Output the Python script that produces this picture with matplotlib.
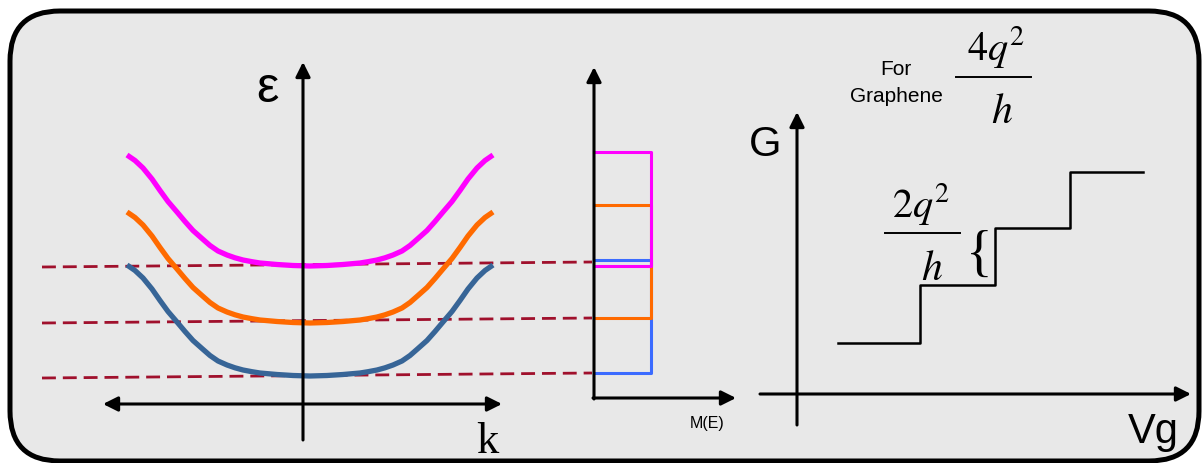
import matplotlib.pyplot as plt
from matplotlib.patches import FancyBboxPatch

plt.rcParams['font.family'] = ['Liberation Sans', 'DejaVu Sans']
plt.rcParams['mathtext.fontset'] = 'stix'

# band dispersion profile (pixel offsets from band centre)
prof_dx = [0, 17, 33, 50, 58, 67, 75, 83, 92, 100, 108, 117, 125, 133, 142, 150, 158, 167, 175, 183]
prof_dy = [0, 0.5, 1.5, 3, 4.3, 6, 8.2, 11, 15, 20.5, 27.5, 35.5, 44.5, 54, 64.5, 75.5, 87, 98, 105.5, 111]
band_centre = 310
band_min = [376, 323, 266]                  # blue, orange, magenta
band_colors = ['#376597', '#ff6a00', '#ff00ff']

# dashed guide lines: left y -> right y
dash_left = [378, 323, 267]
dash_right = [373, 318, 262]

# M(E) staircase: bottom / top of each mode
mode_bottom = [373, 318, 266]
mode_top = [260, 205, 152]
mode_colors = ['#3b6bff', '#ff6a00', '#ff00ff']

# conductance steps G(Vg)
vg_steps = [838, 920, 995, 1070, 1143]
g_steps = [343, 285, 228, 172, 172]

fig = plt.figure(figsize=(12.02, 4.63), dpi=100)
ax = fig.add_axes([0, 0, 1, 1])
ax.set_xlim(0, 1202)
ax.set_ylim(463, 0)
ax.axis('off')

box = FancyBboxPatch((10, 11), 1189, 450, boxstyle='round,pad=0,rounding_size=50',
                     facecolor='#e8e8e8', edgecolor='black', linewidth=3.6)
ax.add_patch(box)

arrow = dict(arrowstyle='-|>', color='black', lw=2.2, mutation_scale=22, shrinkA=0, shrinkB=0)

# dashed lines
for yl, yr in zip(dash_left, dash_right):
    ax.plot([42, 592], [yl, yr], color='#a0102c', lw=2.0, linestyle=(0, (5, 2.5)))

# band curves
for ymin, col in zip(band_min, band_colors):
    xs = [band_centre - d for d in prof_dx[::-1]] + [band_centre + d for d in prof_dx[1:]]
    ys = [ymin - d for d in prof_dy[::-1]] + [ymin - d for d in prof_dy[1:]]
    ax.plot(xs, ys, color=col, lw=3.8, solid_capstyle='butt', solid_joinstyle='round', zorder=3)

# E axis and k axis
ax.annotate('', xy=(303, 62), xytext=(303, 440), arrowprops=arrow, zorder=4)
ax.annotate('', xy=(502, 404), xytext=(103, 404),
            arrowprops=dict(arrowstyle='<|-|>', color='black', lw=2.2, mutation_scale=22,
                            shrinkA=0, shrinkB=0), zorder=4)
ax.text(267, 102, 'ε', fontsize=36, ha='center', va='baseline')
ax.text(487, 453, 'k', fontsize=32, ha='center', va='baseline', family='Liberation Serif')

# M(E) staircase
for b, t, col in zip(mode_bottom, mode_top, mode_colors):
    ax.plot([594, 651, 651, 594], [b, b, t, t], color=col, lw=2.2, zorder=3)
ax.annotate('', xy=(594, 67), xytext=(594, 399), arrowprops=arrow, zorder=4)
ax.annotate('', xy=(736, 398), xytext=(593, 398), arrowprops=arrow, zorder=4)
ax.text(707, 428, 'M(E)', fontsize=11.5, ha='center', va='baseline')

# G vs Vg
ax.annotate('', xy=(797, 112), xytext=(797, 425), arrowprops=arrow)
ax.annotate('', xy=(1191, 394), xytext=(760, 394), arrowprops=arrow)
ax.step(vg_steps, g_steps, where='post', color='black', lw=1.8)
ax.text(765, 156, 'G', fontsize=30, ha='center', va='baseline')
ax.text(1153, 443, 'Vg', fontsize=30, ha='center', va='baseline')

# 2q^2/h label with brace
ax.text(921, 217, r'$2q^2$', fontsize=29, ha='center', va='baseline')
ax.plot([885, 960], [233, 233], color='black', lw=1.4)
ax.text(932, 280, r'$h$', fontsize=30, ha='center', va='baseline')
ax.text(979, 257, '{', fontsize=40, ha='center', va='center', family='Liberation Serif')

# graphene label
ax.text(896, 75, 'For', fontsize=15, ha='center', va='baseline')
ax.text(896, 102, 'Graphene', fontsize=15, ha='center', va='baseline')
ax.text(996, 60, r'$4q^2$', fontsize=29, ha='center', va='baseline')
ax.plot([956, 1031], [77, 77], color='black', lw=1.4)
ax.text(1002, 123, r'$h$', fontsize=30, ha='center', va='baseline')

fig.savefig('out.png', dpi=100)
